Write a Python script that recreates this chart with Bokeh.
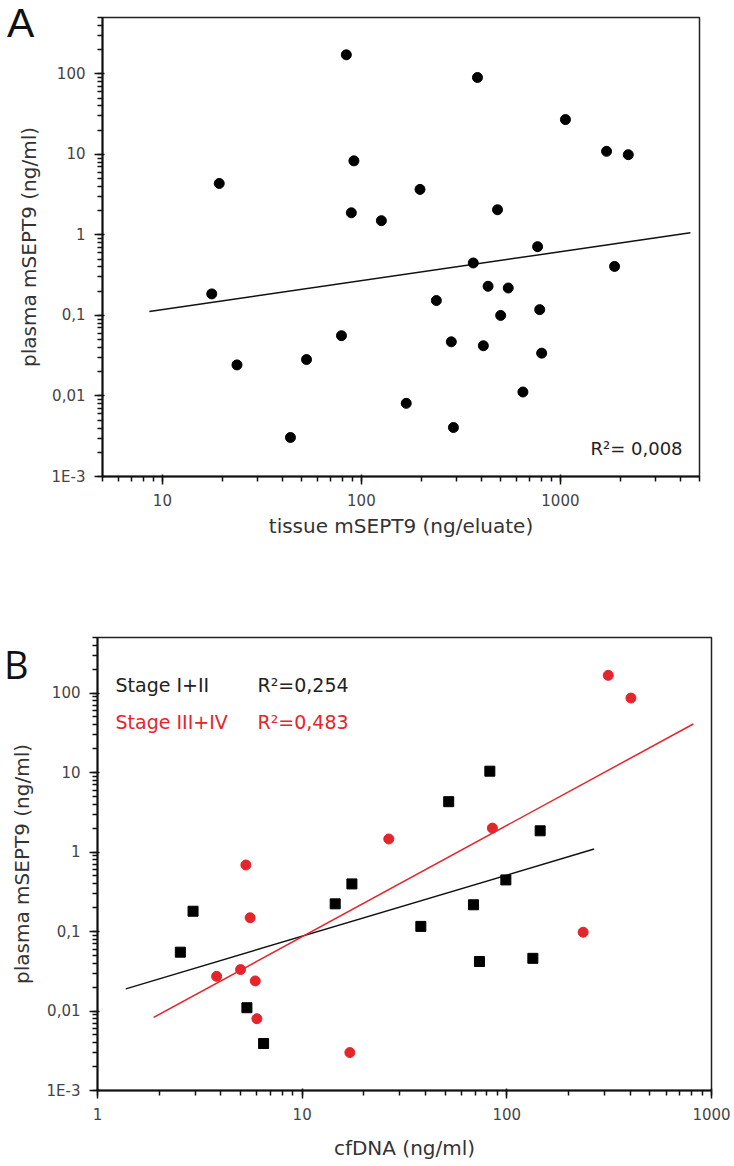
from bokeh.plotting import figure
from bokeh.models import FixedTicker, Label, Range1d, Div, CustomJSTickFormatter
from bokeh.embed import file_html
from bokeh.resources import INLINE

# ---------------- data: panel A ----------------
a_tissue = [84, 19.3, 91.7, 89, 17.7, 383, 1060, 1706, 2193, 197, 126, 483, 768, 365,
            1872, 433, 547, 238, 501, 787, 283, 410, 805, 648, 168, 290, 23.7, 53, 79.4, 44]
a_plasma = [172, 4.35, 8.3, 1.88, 0.185, 90, 27, 10.9, 9.9, 3.67, 1.5, 2.05, 0.714, 0.448,
            0.406, 0.23, 0.219, 0.153, 0.1, 0.118, 0.047, 0.042, 0.034, 0.0112, 0.0081,
            0.00406, 0.0243, 0.0283, 0.056, 0.00305]
a_fit_x = [8.6, 4500]
a_fit_y = [0.112, 1.06]
a_r2 = "R\u00b2= 0,008"

# ---------------- data: panel B ----------------
b_early_cf = [2.54, 2.93, 5.37, 6.48, 14.5, 17.5, 38, 52, 68.7, 73.5, 82.6, 98.9, 134, 145.5]
b_early_plasma = [0.055, 0.18, 0.011, 0.0039, 0.223, 0.397, 0.116, 4.3, 0.217, 0.042,
                  10.4, 0.446, 0.046, 1.85]
b_late_cf = [3.82, 5.0, 5.31, 5.57, 5.9, 6.01, 17.1, 26.5, 85, 236, 313, 404]
b_late_plasma = [0.0273, 0.0332, 0.687, 0.149, 0.0239, 0.008, 0.003, 1.46, 2.0, 0.098,
                 167, 86.5]
b_early_fit_x = [1.375, 267]
b_early_fit_y = [0.019, 1.09]
b_late_fit_x = [1.88, 815]
b_late_fit_y = [0.0083, 40.8]
b_labels = ["Stage I+II", "Stage III+IV"]
b_r2 = ["R\u00b2=0,254", "R\u00b2=0,483"]
panel_letters = ["A", "B"]

# ---------------- ticks ----------------
y_ticks = [0.001, 0.01, 0.1, 1, 10, 100]
y_tick_labels = ["1E-3", "0,01", "0,1", "1", "10", "100"]
a_x_ticks = [10, 100, 1000]
a_x_tick_labels = ["10", "100", "1000"]
b_x_ticks = [1, 10, 100, 1000]
b_x_tick_labels = ["1", "10", "100", "1000"]

RED = "#e4252b"
FONT = "DejaVu Sans"

FMT_CODE = """
for (let i = 0; i < tvals.length; i++) {
    if (Math.abs(Math.log10(tick) - Math.log10(tvals[i])) < 1e-6) { return tlabels[i]; }
}
return "";
"""


def minors(lo, hi):
    out = []
    for k in range(-4, 5):
        for m in range(2, 10):
            v = m * 10.0 ** k
            if lo * 0.9999 <= v <= hi * 1.0001:
                out.append(v)
    return out


def style(p, xt, xl, yt, yl, xr, yr, xtitle, ytitle, xstand, ystand):
    # every tick is drawn as a short tick; the decades get a longer mark on top
    p.xaxis.ticker = FixedTicker(ticks=list(xt) + minors(*xr), minor_ticks=list(xt))
    p.yaxis.ticker = FixedTicker(ticks=list(yt) + minors(*yr), minor_ticks=list(yt))
    p.xaxis.formatter = CustomJSTickFormatter(args=dict(tvals=xt, tlabels=xl), code=FMT_CODE)
    p.yaxis.formatter = CustomJSTickFormatter(args=dict(tvals=yt, tlabels=yl), code=FMT_CODE)
    p.xaxis.axis_label = xtitle
    p.yaxis.axis_label = ytitle
    for ax in (p.xaxis, p.yaxis):
        ax.axis_line_width = 2
        ax.axis_line_color = "#111111"
        ax.major_tick_line_color = "#111111"
        ax.major_tick_line_width = 1.5
        ax.major_tick_out = 5
        ax.major_tick_in = 0
        ax.minor_tick_line_color = "#111111"
        ax.minor_tick_line_width = 1.5
        ax.minor_tick_out = 8
        ax.minor_tick_in = 2
        ax.major_label_text_font = FONT
        ax.major_label_text_font_size = "15px"
        ax.major_label_text_color = "#444444"
        ax.major_label_standoff = 9
        ax.axis_label_text_font = FONT
        ax.axis_label_text_font_size = "20px"
        ax.axis_label_text_font_style = "normal"
        ax.axis_label_text_color = "#333333"
    p.xaxis.axis_label_standoff = xstand
    p.yaxis.axis_label_standoff = ystand
    p.xgrid.visible = False
    p.ygrid.visible = False
    p.outline_line_color = "#222222"
    p.outline_line_width = 1.5
    p.background_fill_color = "white"
    p.border_fill_color = "white"


# ---------------- panel A ----------------
pa = figure(width=734, height=564, x_axis_type="log", y_axis_type="log",
            x_range=Range1d(5, 5000), y_range=Range1d(0.001, 500),
            output_backend="svg", toolbar_location=None,
            min_border_left=102, min_border_right=35, min_border_top=17, min_border_bottom=88,
            styles={"position": "absolute", "left": "0px", "top": "0px"})
style(pa, a_x_ticks, a_x_tick_labels, y_ticks, y_tick_labels, (5, 5000), (0.001, 500),
      "tissue mSEPT9 (ng/eluate)", "plasma mSEPT9 (ng/ml)", 5, 8)
pa.line(a_fit_x, a_fit_y, line_color="#111111", line_width=1.5)
pa.scatter(a_tissue, a_plasma, marker="circle", size=10, fill_color="black", line_color="black")
pa.add_layout(Label(x=488, y=28, x_units="screen", y_units="screen", text=a_r2,
                    text_font=FONT, text_font_size="18px", text_color="#222222",
                    text_baseline="alphabetic"))

# ---------------- panel B ----------------
pb = figure(width=734, height=598, x_axis_type="log", y_axis_type="log",
            x_range=Range1d(1, 1000), y_range=Range1d(0.001, 500),
            output_backend="svg", toolbar_location=None,
            min_border_left=97, min_border_right=23, min_border_top=73, min_border_bottom=71,
            styles={"position": "absolute", "left": "0px", "top": "564px"})
style(pb, b_x_ticks, b_x_tick_labels, y_ticks, y_tick_labels, (1, 1000), (0.001, 500),
      "cfDNA (ng/ml)", "plasma mSEPT9 (ng/ml)", 13, 10)
pb.line(b_early_fit_x, b_early_fit_y, line_color="#111111", line_width=1.5)
pb.line(b_late_fit_x, b_late_fit_y, line_color=RED, line_width=1.5)
pb.scatter(b_early_cf, b_early_plasma, marker="square", size=10,
           fill_color="black", line_color="black")
pb.scatter(b_late_cf, b_late_plasma, marker="circle", size=10,
           fill_color=RED, line_color=RED)
for txt, r2, yy, col in zip(b_labels, b_r2, [406, 369], ["#222222", RED]):
    pb.add_layout(Label(x=18, y=yy, x_units="screen", y_units="screen", text=txt,
                        text_font=FONT, text_font_size="19px", text_color=col,
                        text_baseline="alphabetic"))
    pb.add_layout(Label(x=160, y=yy, x_units="screen", y_units="screen", text=r2,
                        text_font=FONT, text_font_size="19px", text_color=col,
                        text_baseline="alphabetic"))

# ---------------- panel letters ----------------
div_a = Div(text=('<div style="font-family:\'Liberation Sans\';font-size:41px;'
                  'line-height:41px;color:#111111;margin:0;padding:0">%s</div>' % panel_letters[0]),
            styles={"position": "absolute", "left": "7px", "top": "3px", "z-index": "10",
                    "margin": "0px", "padding": "0px"})
div_b = Div(text=('<div style="font-family:\'Open Sans\';font-size:38px;'
                  'line-height:38px;color:#111111;margin:0;padding:0">%s</div>' % panel_letters[1]),
            styles={"position": "absolute", "left": "4px", "top": "645px", "z-index": "10",
                    "margin": "0px", "padding": "0px"})

open("out.html", "w").write(file_html([pa, pb, div_a, div_b], INLINE))
